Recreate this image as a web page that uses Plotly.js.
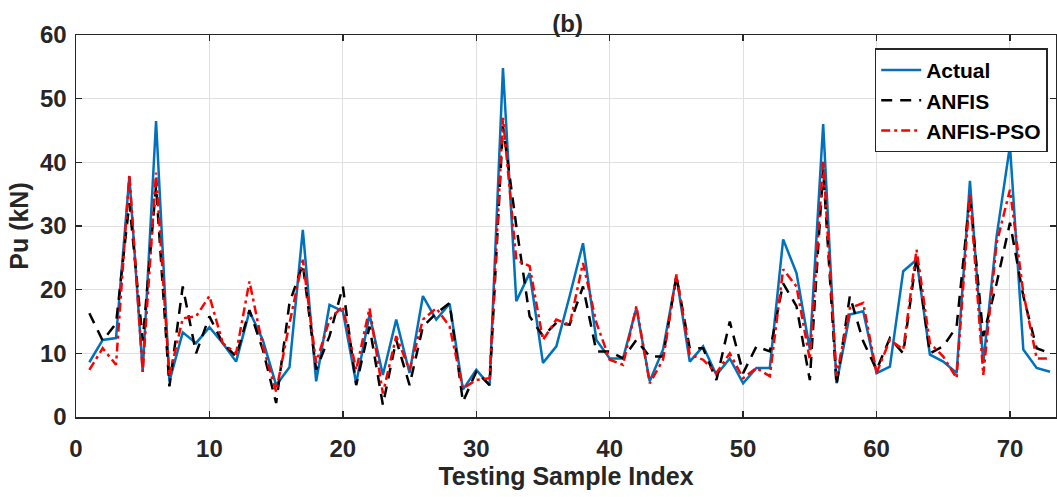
<!DOCTYPE html>
<html><head><meta charset="utf-8">
<script src="https://cdn.plot.ly/plotly-3.0.1.min.js"></script>
<style>html,body{margin:0;padding:0;background:#fff}#chart{width:1057px;height:497px}</style>
</head><body><div id="chart"></div>
<script>
const sampleIndex = Array.from({length: 73}, (_, k) => k + 1);
const actual = [8.6,12.1,12.4,37.8,7.1,46.5,5.6,13.3,11.6,14.1,11.6,8.7,16.6,12.1,5.0,7.8,29.4,5.6,17.6,16.6,5.3,16.1,6.6,15.3,6.9,19.0,15.3,17.8,4.3,7.4,5.0,54.8,18.2,22.6,8.5,11.1,19.0,27.3,12.1,9.2,9.2,17.1,5.6,10.6,22.1,8.7,11.1,6.6,9.2,5.3,7.7,7.7,27.9,22.6,10.6,46.0,5.3,16.1,16.6,6.9,7.9,22.9,24.7,9.8,8.7,6.9,37.1,8.5,28.4,42.6,10.6,7.7,7.1];
const anfis = [16.3,12.0,14.7,33.6,12.0,36.3,4.8,20.5,10.0,15.8,11.6,9.5,16.8,10.6,2.2,17.9,24.0,7.4,12.7,20.5,5.0,14.2,1.9,12.1,5.0,14.2,16.3,17.9,2.4,7.1,5.0,45.7,30.0,15.8,12.7,14.8,14.5,20.5,10.3,10.3,9.2,12.1,9.5,9.5,22.1,10.8,10.8,5.8,15.0,6.9,11.1,10.3,21.0,17.4,5.8,38.9,5.0,19.0,11.9,7.4,12.4,10.0,25.2,10.0,11.1,14.2,34.7,12.7,21.0,30.5,19.0,10.8,10.0];
const anfisPso = [7.4,10.8,8.2,38.1,7.1,38.4,6.4,15.5,15.8,19.0,11.6,10.0,21.3,11.1,4.0,14.7,24.7,8.5,15.3,17.4,7.4,17.1,3.7,12.7,7.4,15.3,17.1,14.2,4.5,5.8,6.1,47.0,24.7,23.7,12.1,15.3,14.5,24.2,14.8,9.0,8.2,17.4,5.3,9.0,22.4,9.8,9.0,6.9,10.0,6.1,7.7,6.4,23.2,20.5,9.0,40.2,6.4,17.1,17.9,6.9,12.1,10.6,26.3,11.6,9.5,6.1,35.2,6.6,27.3,35.7,19.5,9.2,9.2];
const xTicks = [0,10,20,30,40,50,60,70];
const yTicks = [0,10,20,30,40,50,60];

const traces = [
  {x: sampleIndex, y: actual, name: 'Actual', type: 'scatter', mode: 'lines',
   line: {color: '#0072BD', width: 2.5}},
  {x: sampleIndex, y: anfis, name: 'ANFIS', type: 'scatter', mode: 'lines',
   line: {color: '#000000', width: 2.5, dash: '11px,8px'}},
  {x: sampleIndex, y: anfisPso, name: 'ANFIS-PSO', type: 'scatter', mode: 'lines',
   line: {color: '#FF0000', width: 2.5, dash: '9px,4px,3px,4px'}}
];
const font = {family: 'Liberation Sans, Arial, sans-serif', color: '#262626'};
const axisCommon = {
  showline: true, linecolor: '#262626', linewidth: 1.5, mirror: 'ticks',
  ticks: 'inside', ticklen: 6, tickwidth: 1.5, tickcolor: '#262626',
  showgrid: true, gridcolor: '#e0e0e0', gridwidth: 1, zeroline: false,
  tickfont: Object.assign({size: 24, weight: 'bold'}, font)
};
const layout = {
  width: 1057, height: 497,
  margin: {l: 76, r: 1, t: 35, b: 80},
  paper_bgcolor: '#fff', plot_bgcolor: '#fff',
  showlegend: true,
  title: {text: '<b>(b)</b>', font: Object.assign({size: 24}, font), x: 0.537, xanchor: 'center', y: 0.935, yanchor: 'bottom'},
  xaxis: Object.assign({}, axisCommon, {range: [0, 73.45], tickvals: xTicks, ticklabelstandoff: 10,
    title: {text: '<b>Testing Sample Index</b>', font: Object.assign({size: 25}, font), standoff: 5}}),
  yaxis: Object.assign({}, axisCommon, {range: [0, 60], tickvals: yTicks, ticklabelstandoff: 3,
    title: {text: '<b>Pu (kN)</b>', font: Object.assign({size: 25}, font), standoff: 4}}),
  legend: {x: 0.815, y: 0.965, xanchor: 'left', yanchor: 'top',
    bgcolor: '#fff', bordercolor: '#262626', borderwidth: 1.5,
    font: Object.assign({size: 21, weight: 'bold'}, {family: font.family, color: '#000'}),
    tracegroupgap: 0, itemwidth: 40}
};
Plotly.newPlot('chart', traces, layout, {staticPlot: true, displayModeBar: false});
</script></body></html>
